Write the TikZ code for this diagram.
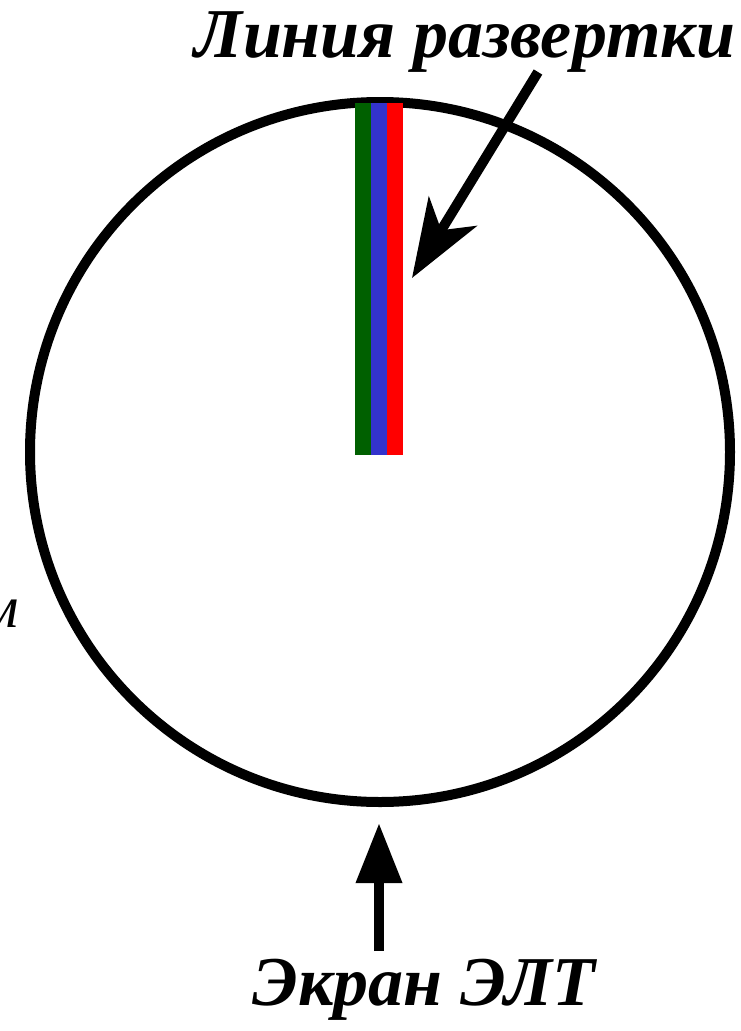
\documentclass[tikz,border=0pt]{standalone}
\usepackage{fontspec}
\setmainfont{Liberation Serif}
\usetikzlibrary{arrows.meta}
\definecolor{beamGreen}{RGB}{0,96,0}
\definecolor{beamBlue}{RGB}{51,51,204}
\definecolor{beamRed}{RGB}{255,0,0}
\newcommand{\crtLabel}[1]{\fontsize{70}{70}\selectfont\bfseries\itshape #1}

\begin{document}
\begin{tikzpicture}[x=1pt,y=-1pt,
  screen/.style={line width=10pt},
  pointer/.style={line width=10pt},
  label/.style={anchor=base, inner sep=0pt}]
\useasboundingbox (0,0) rectangle (741,1031);
\draw[screen] (380,452) circle (350);
\fill[beamGreen] (355,103) rectangle (371,455);
\fill[beamBlue] (371,103) rectangle (387,455);
\fill[beamRed] (387,103) rectangle (403,455);
\node[label] (scanText) at (465,57) {\crtLabel{Линия развертки}};
\node[label] (screenText) at (424,1005) {\crtLabel{Экран ЭЛТ}};
\node[label, anchor=base east] (cutText) at (19,627) {\fontsize{60}{60}\selectfont\itshape м};
\coordinate (scanFrom) at (538,72);
\coordinate (scanTip) at (412,278);
\coordinate (screenFrom) at (379,951);
\coordinate (screenTip) at (379,823);
\draw[pointer, -{Stealth[length=78pt, width=56pt, inset=22pt]}] (scanFrom) -- (scanTip);
\draw[pointer, -{Triangle[length=60pt, width=44pt]}] (screenFrom) -- (screenTip);
\end{tikzpicture}
\end{document}
